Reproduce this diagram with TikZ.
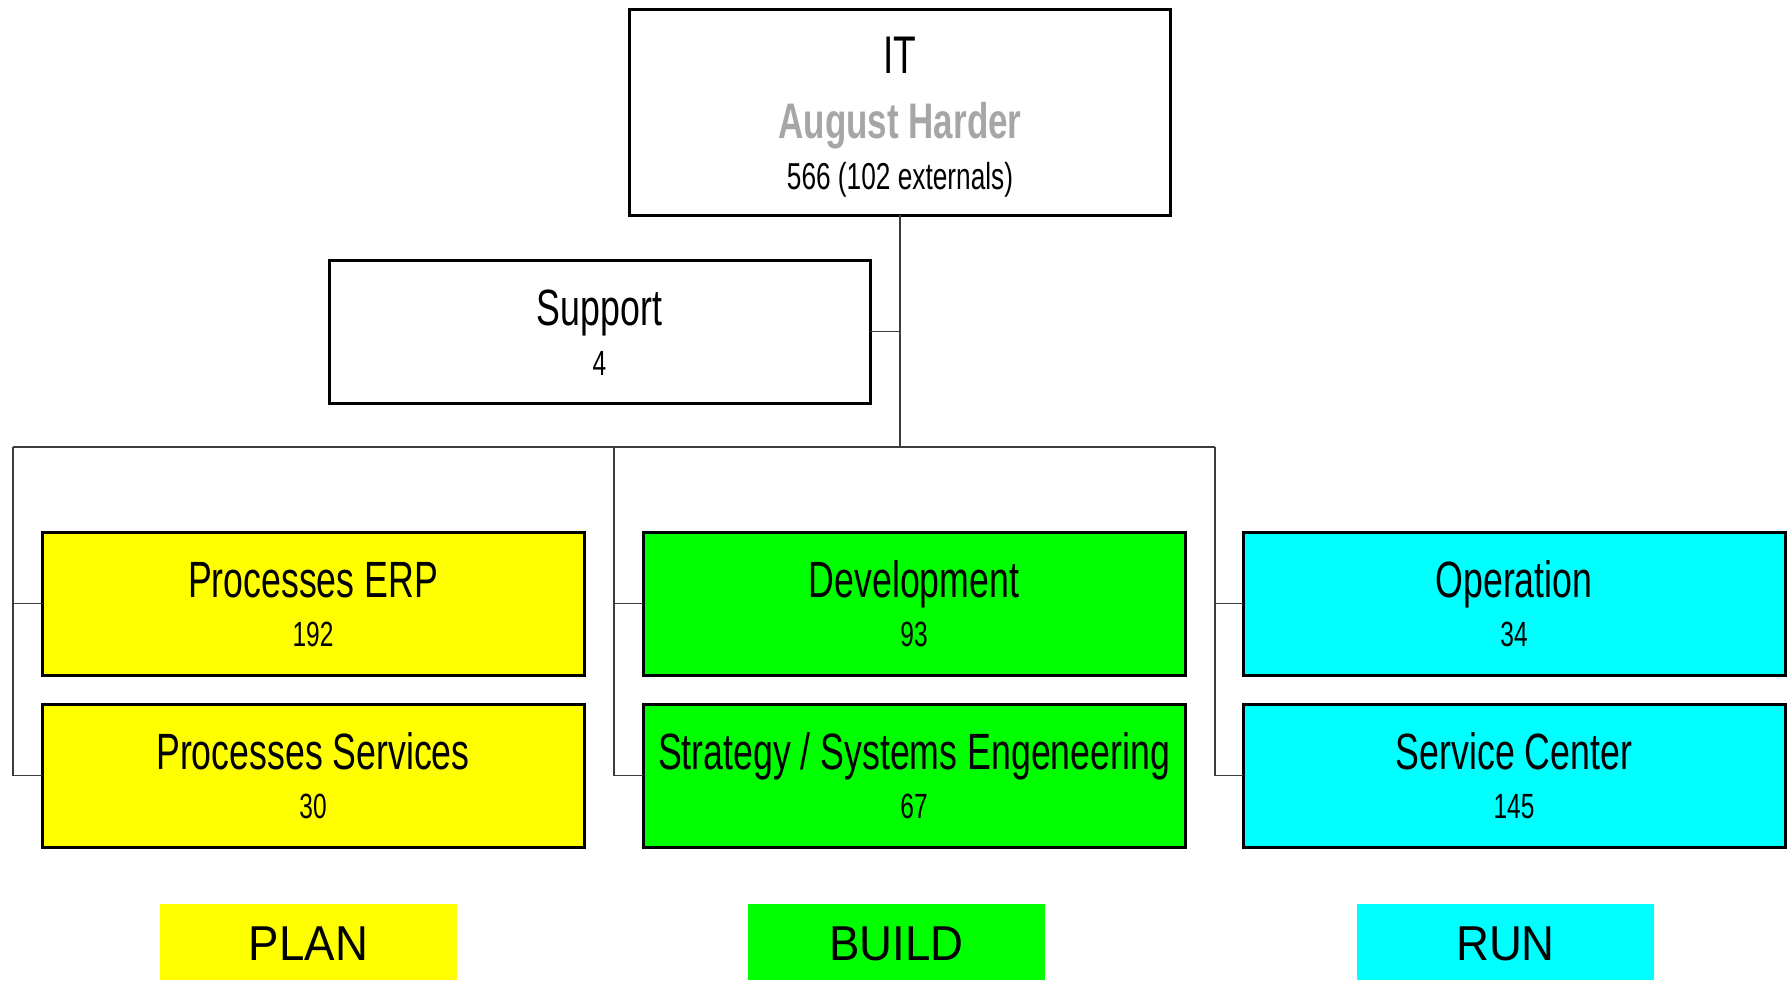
\documentclass[tikz,border=0pt]{standalone}
\usepackage{fontspec}
\setmainfont{Liberation Sans}
\newfontfamily\narrowfont[FakeStretch=0.70]{Liberation Sans}
\newfontfamily\tagfont[FakeStretch=0.93]{Liberation Sans}
\definecolor{plancol}{RGB}{255,255,0}
\definecolor{buildcol}{RGB}{0,255,0}
\definecolor{runcol}{RGB}{0,255,255}
\definecolor{namegrey}{RGB}{166,166,168}
\definecolor{conncol}{RGB}{60,60,60}
\begin{document}
\begin{tikzpicture}[x=1pt,y=-1pt,
  box/.style={draw=black, line width=3pt, minimum width=541pt, minimum height=143pt, inner sep=0pt, outer sep=0pt},
  unitbox/.style={box, minimum width=542pt},
  tagbox/.style={minimum width=297pt, minimum height=76pt, inner sep=0pt, outer sep=0pt},
  ttl/.style={anchor=base, inner sep=0pt, font=\narrowfont\fontsize{51}{60}\selectfont},
  num/.style={anchor=base, inner sep=0pt, font=\narrowfont\fontsize{35}{42}\selectfont},
  tagtext/.style={anchor=base, inner sep=0pt, font=\tagfont\fontsize{49}{58}\selectfont},
  conn/.style={draw=conncol, line width=1.5pt}]
\useasboundingbox (0,0) rectangle (1790,980);

% top box
\node[box, minimum width=541pt, minimum height=206pt] (it) at (900,112) {};
\node[anchor=base, inner sep=0pt, font=\narrowfont\fontsize{53}{60}\selectfont] (itt) at (900,73) {IT};
\node[anchor=base, inner sep=0pt, text=namegrey, font=\narrowfont\bfseries\fontsize{50}{60}\selectfont] (itn) at (900,138) {August Harder};
\node[anchor=base, inner sep=0pt, font=\narrowfont\fontsize{37.5}{45}\selectfont] (itc) at (900,189) {566 (102 externals)};

% support
\node[box] (sup) at (599.5,331.5) {};
\node[ttl] (supt) at (599.5,325) {Support};
\node[num] (supn) at (599.5,375) {4};

% PLAN column
\node[unitbox, fill=plancol] (erp) at (313,603.5) {};
\node[ttl] at (313,597) {Processes ERP};
\node[num] at (313,646) {192};
\node[unitbox, fill=plancol] (psv) at (313,775.5) {};
\node[ttl] at (313,769) {Processes Services};
\node[num] at (313,818) {30};

% BUILD column
\node[unitbox, fill=buildcol] (dev) at (914,603.5) {};
\node[ttl] at (914,597) {Development};
\node[num] at (914,646) {93};
\node[unitbox, fill=buildcol] (sse) at (914,775.5) {};
\node[ttl] at (914,769) {Strategy / Systems Engeneering};
\node[num] at (914,818) {67};

% RUN column
\node[unitbox, fill=runcol] (ops) at (1514,603.5) {};
\node[ttl] at (1514,597) {Operation};
\node[num] at (1514,646) {34};
\node[unitbox, fill=runcol] (svc) at (1514,775.5) {};
\node[ttl] at (1514,769) {Service Center};
\node[num] at (1514,818) {145};

% connectors
\coordinate (hub) at (900,447);
\coordinate (c1) at (13,447);
\coordinate (c2) at (614,447);
\coordinate (c3) at (1215,447);
\draw[conn] (it.south) -- (hub);
\draw[conn] (sup.east) -- (sup.east -| hub);
\draw[conn] (c1) -- (c3);
\draw[conn] (c1) |- (psv.west);
\draw[conn] (c1 |- erp.west) -- (erp.west);
\draw[conn] (c2) |- (sse.west);
\draw[conn] (c2 |- dev.west) -- (dev.west);
\draw[conn] (c3) |- (svc.west);
\draw[conn] (c3 |- ops.west) -- (ops.west);

% legend tags
\node[tagbox, fill=plancol] (plan) at (308.5,942) {};
\node[tagtext] at (308.5,960) {PLAN};
\node[tagbox, fill=buildcol] (build) at (896.5,942) {};
\node[tagtext] at (896.5,960) {BUILD};
\node[tagbox, fill=runcol] (run) at (1505.5,942) {};
\node[tagtext] at (1505.5,960) {RUN};
\end{tikzpicture}
\end{document}
